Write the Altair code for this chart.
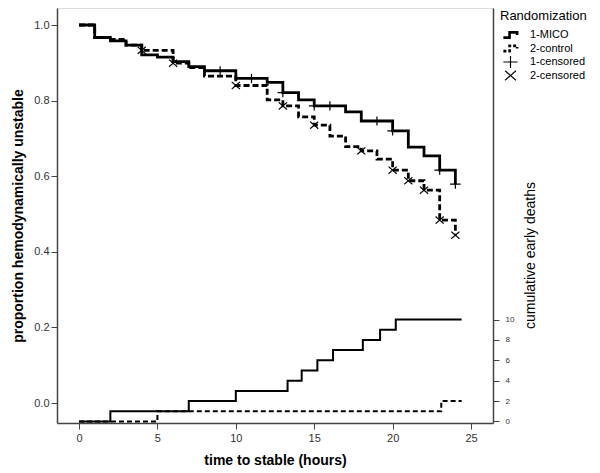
import altair as alt
import pandas as pd

# Kaplan-Meier step starts (hours, proportion still unstable)
t_mico = [0, 1, 2, 3, 4, 5, 6, 7, 8, 10, 12, 13, 14, 15, 17, 18, 20, 21, 22, 23, 24]
s_mico = [1.0, 0.967, 0.958, 0.947, 0.921, 0.915, 0.903, 0.890, 0.879, 0.859, 0.848,
          0.821, 0.802, 0.786, 0.770, 0.746, 0.720, 0.677, 0.654, 0.616, 0.579]
t_ctrl = [0, 1, 2, 3, 4, 6, 7, 8, 10, 12, 13, 14, 15, 16, 17, 18, 19, 20, 21, 22, 23, 24]
s_ctrl = [1.0, 0.967, 0.962, 0.947, 0.933, 0.899, 0.887, 0.865, 0.840, 0.802, 0.786,
          0.757, 0.735, 0.706, 0.678, 0.667, 0.645, 0.616, 0.588, 0.563, 0.484, 0.444]

# censored observations
cens1_t = [9, 11, 13, 15, 16, 19, 20, 23, 24]
cens1_s = [0.879, 0.859, 0.821, 0.786, 0.786, 0.746, 0.720, 0.616, 0.579]
cens2_t = [4, 6, 10, 13, 15, 18, 20, 21, 22, 23, 24]
cens2_s = [0.933, 0.899, 0.840, 0.786, 0.735, 0.667, 0.616, 0.588, 0.563, 0.484, 0.444]

# cumulative early deaths
deaths1_t = [0, 2, 7, 10, 13.3, 14.2, 15.2, 16.2, 18.1, 19.2, 20.2, 24.4]
deaths1_n = [0, 1, 2, 3, 4, 5, 6, 7, 8, 9, 10, 10]
deaths2_t = [0, 5, 23.1, 24.4]
deaths2_n = [0, 1, 2, 2]

legend_domain = ["1-MICO", "2-control", "1-censored", "2-censored"]
x_ticks = [0, 5, 10, 15, 20, 25]
y_ticks = [0.0, 0.2, 0.4, 0.6, 0.8, 1.0]
death_ticks = [0, 2, 4, 6, 8, 10]

FONT = "Liberation Sans"
AX = "#444444"

mico = pd.DataFrame({"t": t_mico, "s": s_mico})
ctrl = pd.DataFrame({"t": t_ctrl, "s": s_ctrl})
cens = pd.DataFrame({
    "t": cens1_t + cens2_t,
    "s": cens1_s + cens2_s,
    "legend": ["1-censored"] * len(cens1_t) + ["2-censored"] * len(cens2_t),
})
d1 = pd.DataFrame({"t": deaths1_t, "n": deaths1_n})
d2 = pd.DataFrame({"t": deaths2_t, "n": deaths2_n})

xenc = alt.X("t:Q",
             scale=alt.Scale(domain=[-1.403, 26.40], nice=False, zero=False),
             axis=alt.Axis(values=x_ticks, format="d", title="time to stable (hours)",
                           titleFontWeight="bold", titleFontSize=14, titleFont=FONT,
                           titleColor="black", titleY=37, titleBaseline="middle",
                           labelFontSize=11, labelFont=FONT, labelColor="#333",
                           tickSize=6, labelPadding=3, domainColor=AX, tickColor=AX,
                           domainWidth=1.5, grid=False))

yscale = alt.Scale(domain=[-0.0529, 1.045], nice=False, zero=False)
yaxis = alt.Axis(values=y_ticks, format=".1f", title="proportion hemodynamically unstable",
                 titleFontWeight="bold", titleFontSize=14, titleFont=FONT, titleColor="black",
                 titleX=-39, titleY=207.5, titleAngle=270, titleBaseline="middle",
                 labelFontSize=11, labelFont=FONT, labelColor="#333", tickSize=6,
                 labelPadding=2, domainColor=AX, tickColor=AX, domainWidth=1.5, grid=False)

line_mico = alt.Chart(mico).mark_line(interpolate="step-after", color="black",
                                      strokeWidth=2.8).encode(
    x=xenc, y=alt.Y("s:Q", scale=yscale, axis=yaxis))
line_ctrl = alt.Chart(ctrl).mark_line(interpolate="step-after", color="black",
                                      strokeWidth=2.8, strokeDash=[6, 3]).encode(
    x=xenc, y=alt.Y("s:Q", scale=yscale, axis=yaxis))

step_path = "M-1.5,0.55L-0.2,0.55L-0.2,-0.55L1.4,-0.55L1.4,0"
plus_path = "M-1.5,0L1.5,0M0,-1.3L0,1.3"
x_path = "M-1.15,-1L1.15,1M-1.15,1L1.15,-1"

leg = alt.Legend(title="Randomization", orient="none", legendX=443, legendY=2,
                 titleFont=FONT, titleFontSize=13, titleFontWeight="normal",
                 titleColor="black", labelFont=FONT, labelFontSize=11, labelColor="black",
                 symbolSize=90, symbolOffset=4, labelOffset=13, rowPadding=1.5,
                 clipHeight=12, titlePadding=6, symbolStrokeColor="black", padding=0)

points = alt.Chart(cens).mark_point(filled=False, color="black", size=50, opacity=1).encode(
    x=xenc,
    y=alt.Y("s:Q", scale=yscale, axis=yaxis),
    shape=alt.Shape("legend:N", scale=alt.Scale(domain=legend_domain,
                    range=[step_path, step_path, plus_path, x_path]), legend=leg),
    strokeDash=alt.StrokeDash("legend:N", scale=alt.Scale(domain=legend_domain,
                    range=[[1, 0], [3, 2], [1, 0], [1, 0]]), legend=leg),
    strokeWidth=alt.StrokeWidth("legend:N", scale=alt.Scale(type="ordinal",
                    domain=legend_domain, range=[2.6, 2.6, 1.2, 1.2]), legend=leg),
)

dscale = alt.Scale(domain=[-0.15, 40.55], nice=False, zero=False)
daxis = alt.Axis(orient="right", values=death_ticks, format="d",
                 title="cumulative early deaths", titleFont=FONT, titleFontSize=14,
                 titleFontWeight="normal", titleColor="black", titleAngle=270,
                 titleX=37, titleY=247, titleBaseline="middle",
                 labelFontSize=8, labelFont=FONT, labelColor="#333", tickSize=6,
                 labelPadding=6, domainColor=AX, tickColor=AX, domainWidth=1.5, grid=False)

death1 = alt.Chart(d1).mark_line(interpolate="step-after", color="black",
                                 strokeWidth=2).encode(
    x=xenc, y=alt.Y("n:Q", scale=dscale, axis=daxis))
death2 = alt.Chart(d2).mark_line(interpolate="step-after", color="black",
                                 strokeWidth=2, strokeDash=[5, 3]).encode(
    x=xenc, y=alt.Y("n:Q", scale=dscale, axis=daxis))

km = alt.layer(line_mico, line_ctrl, points)
deaths = alt.layer(death1, death2)

chart = alt.layer(km, deaths).resolve_scale(y="independent").properties(
    width=436, height=415,
    autosize=alt.AutoSizeParams(type="none"),
    padding={"left": 49, "top": 0, "right": 99, "bottom": 50},
).configure_view(stroke=AX, strokeWidth=1.5).configure(background="white")

chart.save("out.html", embed_options={"renderer": "svg", "actions": False})
